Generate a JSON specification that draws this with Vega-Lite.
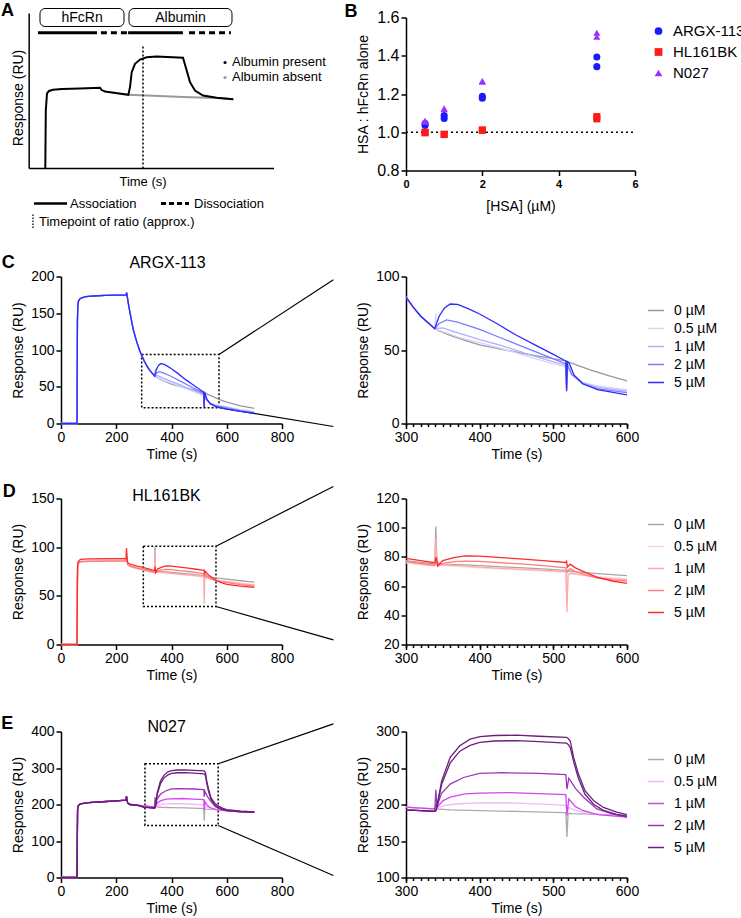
{
"$schema": "https://vega.github.io/schema/vega-lite/v6.json",
"padding": {"left": 1, "top": -6.5, "right": 5, "bottom": 5},
"config": {
  "font": "Liberation Sans",
  "view": {"stroke": null},
  "axis": {"domainColor": "black", "domainWidth": 1.5, "tickColor": "black", "tickWidth": 1.5, "tickSize": 5, "labelColor": "black", "labelFontSize": 14, "titleColor": "black", "titleFontSize": 14, "titleFontWeight": "normal", "grid": false, "labelFont": "Liberation Sans", "titleFont": "Liberation Sans", "labelPadding": 2, "labelOverlap": false, "labelFlush": false},
  "legend": {"labelFontSize": 14, "labelColor": "black", "labelFont": "Liberation Sans"},
  "text": {"font": "Liberation Sans", "color": "black"}
},
"datasets": {
  "schem": [
    {"s":"absent","t":40.49,"r":47.5},{"s":"absent","t":62.83,"r":46.1},{"s":"absent","t":76.6,"r":45.4},{"s":"absent","t":83.38,"r":44.7},
    {"s":"present","t":6.59,"r":0},{"s":"present","t":6.79,"r":37.4},{"s":"present","t":7.28,"r":48.4},{"s":"present","t":8.1,"r":50.0},{"s":"present","t":9.73,"r":50.8},{"s":"present","t":13.4,"r":51.3},{"s":"present","t":20.76,"r":51.6},{"s":"present","t":28.93,"r":52.1},{"s":"present","t":29.62,"r":50.6},{"s":"present","t":30.97,"r":49.7},{"s":"present","t":40.49,"r":47.5},{"s":"present","t":41.18,"r":52.4},{"s":"present","t":41.88,"r":62.1},{"s":"present","t":43.22,"r":67.5},{"s":"present","t":45.27,"r":70.3},{"s":"present","t":48.0,"r":71.8},{"s":"present","t":52.09,"r":72.2},{"s":"present","t":62.83,"r":71.4},{"s":"present","t":64.34,"r":63.2},{"s":"present","t":65.69,"r":55.7},{"s":"present","t":67.73,"r":50.3},{"s":"present","t":71.0,"r":47.1},{"s":"present","t":76.6,"r":45.6},{"s":"present","t":83.38,"r":44.7}
  ],
  "ratio": [
    {"ab":"ARGX-113","hsa":0.5,"v":1.035},{"ab":"ARGX-113","hsa":0.5,"v":1.045},{"ab":"ARGX-113","hsa":1,"v":1.072},{"ab":"ARGX-113","hsa":1,"v":1.088},{"ab":"ARGX-113","hsa":2,"v":1.178},{"ab":"ARGX-113","hsa":2,"v":1.188},{"ab":"ARGX-113","hsa":5,"v":1.343},{"ab":"ARGX-113","hsa":5,"v":1.393},
    {"ab":"HL161BK","hsa":0.5,"v":0.997},{"ab":"HL161BK","hsa":0.5,"v":1.0},{"ab":"HL161BK","hsa":1,"v":0.988},{"ab":"HL161BK","hsa":1,"v":0.99},{"ab":"HL161BK","hsa":2,"v":1.01},{"ab":"HL161BK","hsa":2,"v":1.012},{"ab":"HL161BK","hsa":5,"v":1.07},{"ab":"HL161BK","hsa":5,"v":1.082},
    {"ab":"N027","hsa":0.5,"v":1.055},{"ab":"N027","hsa":0.5,"v":1.06},{"ab":"N027","hsa":1,"v":1.12},{"ab":"N027","hsa":1,"v":1.125},{"ab":"N027","hsa":2,"v":1.264},{"ab":"N027","hsa":2,"v":1.268},{"ab":"N027","hsa":5,"v":1.5},{"ab":"N027","hsa":5,"v":1.52}
  ],
  "argx": [
    {"c":"0 µM","t":0,"r":0},{"c":"0 µM","t":58,"r":0},{"c":"0 µM","t":58.5,"r":60},{"c":"0 µM","t":59.5,"r":140},{"c":"0 µM","t":61,"r":160},{"c":"0 µM","t":63,"r":166},{"c":"0 µM","t":67,"r":169},{"c":"0 µM","t":75,"r":171},{"c":"0 µM","t":90,"r":172.5},{"c":"0 µM","t":120,"r":173.5},{"c":"0 µM","t":160,"r":174.2},{"c":"0 µM","t":200,"r":174.6},{"c":"0 µM","t":236,"r":175},{"c":"0 µM","t":237.5,"r":178},{"c":"0 µM","t":239,"r":175},{"c":"0 µM","t":243,"r":165},{"c":"0 µM","t":250,"r":150},{"c":"0 µM","t":262,"r":127},{"c":"0 µM","t":275,"r":110},{"c":"0 µM","t":286,"r":98},{"c":"0 µM","t":300,"r":86},{"c":"0 µM","t":310,"r":79},{"c":"0 µM","t":320,"r":73},{"c":"0 µM","t":330,"r":68.5},{"c":"0 µM","t":339,"r":64.5},
    {"c":"0 µM","t":345,"r":63},{"c":"0 µM","t":360,"r":60},{"c":"0 µM","t":380,"r":56.5},{"c":"0 µM","t":400,"r":53.5},{"c":"0 µM","t":430,"r":50.5},{"c":"0 µM","t":460,"r":47.5},{"c":"0 µM","t":490,"r":45},{"c":"0 µM","t":518,"r":42.5},{"c":"0 µM","t":530,"r":40},{"c":"0 µM","t":550,"r":36.5},{"c":"0 µM","t":575,"r":32.5},{"c":"0 µM","t":600,"r":29},{"c":"0 µM","t":650,"r":24},{"c":"0 µM","t":700,"r":20.5},
    {"c":"0.5 µM","t":0,"r":0},{"c":"0.5 µM","t":58,"r":0},{"c":"0.5 µM","t":58.5,"r":60},{"c":"0.5 µM","t":59.5,"r":140},{"c":"0.5 µM","t":61,"r":160},{"c":"0.5 µM","t":63,"r":166},{"c":"0.5 µM","t":67,"r":169},{"c":"0.5 µM","t":75,"r":171},{"c":"0.5 µM","t":90,"r":172.5},{"c":"0.5 µM","t":120,"r":173.5},{"c":"0.5 µM","t":160,"r":174.2},{"c":"0.5 µM","t":200,"r":174.6},{"c":"0.5 µM","t":236,"r":175},{"c":"0.5 µM","t":237.5,"r":178},{"c":"0.5 µM","t":239,"r":175},{"c":"0.5 µM","t":243,"r":165},{"c":"0.5 µM","t":250,"r":150},{"c":"0.5 µM","t":262,"r":127},{"c":"0.5 µM","t":275,"r":110},{"c":"0.5 µM","t":286,"r":98},{"c":"0.5 µM","t":300,"r":86},{"c":"0.5 µM","t":310,"r":79},{"c":"0.5 µM","t":320,"r":73},{"c":"0.5 µM","t":330,"r":68.5},{"c":"0.5 µM","t":339,"r":64.5},
    {"c":"0.5 µM","t":340.5,"r":75},{"c":"0.5 µM","t":341.5,"r":64},{"c":"0.5 µM","t":350,"r":62.5},{"c":"0.5 µM","t":375,"r":58},{"c":"0.5 µM","t":400,"r":55},{"c":"0.5 µM","t":430,"r":51},{"c":"0.5 µM","t":460,"r":46.5},{"c":"0.5 µM","t":490,"r":42},{"c":"0.5 µM","t":517,"r":38.5},{"c":"0.5 µM","t":518,"r":25},{"c":"0.5 µM","t":519,"r":38},{"c":"0.5 µM","t":525,"r":33},{"c":"0.5 µM","t":540,"r":28},{"c":"0.5 µM","t":560,"r":25.5},{"c":"0.5 µM","t":600,"r":23},{"c":"0.5 µM","t":650,"r":19},{"c":"0.5 µM","t":700,"r":16},
    {"c":"1 µM","t":0,"r":0},{"c":"1 µM","t":58,"r":0},{"c":"1 µM","t":58.5,"r":60},{"c":"1 µM","t":59.5,"r":140},{"c":"1 µM","t":61,"r":160},{"c":"1 µM","t":63,"r":166},{"c":"1 µM","t":67,"r":169},{"c":"1 µM","t":75,"r":171},{"c":"1 µM","t":90,"r":172.5},{"c":"1 µM","t":120,"r":173.5},{"c":"1 µM","t":160,"r":174.2},{"c":"1 µM","t":200,"r":174.6},{"c":"1 µM","t":236,"r":175},{"c":"1 µM","t":237.5,"r":178},{"c":"1 µM","t":239,"r":175},{"c":"1 µM","t":243,"r":165},{"c":"1 µM","t":250,"r":150},{"c":"1 µM","t":262,"r":127},{"c":"1 µM","t":275,"r":110},{"c":"1 µM","t":286,"r":98},{"c":"1 µM","t":300,"r":86},{"c":"1 µM","t":310,"r":79},{"c":"1 µM","t":320,"r":73},{"c":"1 µM","t":330,"r":68.5},{"c":"1 µM","t":339,"r":64.5},
    {"c":"1 µM","t":350,"r":65},{"c":"1 µM","t":365,"r":62.5},{"c":"1 µM","t":400,"r":57},{"c":"1 µM","t":430,"r":53},{"c":"1 µM","t":460,"r":48},{"c":"1 µM","t":490,"r":43.5},{"c":"1 µM","t":517,"r":39.5},{"c":"1 µM","t":518,"r":24},{"c":"1 µM","t":519,"r":39.5},{"c":"1 µM","t":525,"r":33.5},{"c":"1 µM","t":540,"r":27.5},{"c":"1 µM","t":560,"r":24.5},{"c":"1 µM","t":600,"r":22},{"c":"1 µM","t":650,"r":18},{"c":"1 µM","t":700,"r":15},
    {"c":"2 µM","t":0,"r":0},{"c":"2 µM","t":58,"r":0},{"c":"2 µM","t":58.5,"r":60},{"c":"2 µM","t":59.5,"r":140},{"c":"2 µM","t":61,"r":160},{"c":"2 µM","t":63,"r":166},{"c":"2 µM","t":67,"r":169},{"c":"2 µM","t":75,"r":171},{"c":"2 µM","t":90,"r":172.5},{"c":"2 µM","t":120,"r":173.5},{"c":"2 µM","t":160,"r":174.2},{"c":"2 µM","t":200,"r":174.6},{"c":"2 µM","t":236,"r":175},{"c":"2 µM","t":237.5,"r":178},{"c":"2 µM","t":239,"r":175},{"c":"2 µM","t":243,"r":165},{"c":"2 µM","t":250,"r":150},{"c":"2 µM","t":262,"r":127},{"c":"2 µM","t":275,"r":110},{"c":"2 µM","t":286,"r":98},{"c":"2 µM","t":300,"r":86},{"c":"2 µM","t":310,"r":79},{"c":"2 µM","t":320,"r":73},{"c":"2 µM","t":330,"r":68.5},{"c":"2 µM","t":339,"r":64.5},
    {"c":"2 µM","t":345,"r":68},{"c":"2 µM","t":355,"r":70.5},{"c":"2 µM","t":370,"r":69},{"c":"2 µM","t":400,"r":64},{"c":"2 µM","t":430,"r":58},{"c":"2 µM","t":460,"r":52},{"c":"2 µM","t":490,"r":46},{"c":"2 µM","t":517,"r":40.5},{"c":"2 µM","t":518,"r":23},{"c":"2 µM","t":519,"r":40.5},{"c":"2 µM","t":525,"r":33.5},{"c":"2 µM","t":540,"r":27},{"c":"2 µM","t":560,"r":23.5},{"c":"2 µM","t":600,"r":21},{"c":"2 µM","t":650,"r":17},{"c":"2 µM","t":700,"r":14.5},
    {"c":"5 µM","t":0,"r":0},{"c":"5 µM","t":58,"r":0},{"c":"5 µM","t":58.5,"r":60},{"c":"5 µM","t":59.5,"r":140},{"c":"5 µM","t":61,"r":160},{"c":"5 µM","t":63,"r":166},{"c":"5 µM","t":67,"r":169},{"c":"5 µM","t":75,"r":171},{"c":"5 µM","t":90,"r":172.5},{"c":"5 µM","t":120,"r":173.5},{"c":"5 µM","t":160,"r":174.2},{"c":"5 µM","t":200,"r":174.6},{"c":"5 µM","t":236,"r":175},{"c":"5 µM","t":237.5,"r":178},{"c":"5 µM","t":239,"r":175},{"c":"5 µM","t":243,"r":165},{"c":"5 µM","t":250,"r":150},{"c":"5 µM","t":262,"r":127},{"c":"5 µM","t":275,"r":110},{"c":"5 µM","t":286,"r":98},{"c":"5 µM","t":300,"r":86},{"c":"5 µM","t":310,"r":79},{"c":"5 µM","t":320,"r":73},{"c":"5 µM","t":330,"r":68.5},{"c":"5 µM","t":339,"r":64.5},
    {"c":"5 µM","t":345,"r":73},{"c":"5 µM","t":352,"r":78.5},{"c":"5 µM","t":360,"r":81.3},{"c":"5 µM","t":370,"r":81},{"c":"5 µM","t":385,"r":78},{"c":"5 µM","t":400,"r":74.5},{"c":"5 µM","t":425,"r":67.5},{"c":"5 µM","t":450,"r":60},{"c":"5 µM","t":475,"r":53.5},{"c":"5 µM","t":500,"r":47},{"c":"5 µM","t":517,"r":42.5},{"c":"5 µM","t":518,"r":22},{"c":"5 µM","t":519,"r":42},{"c":"5 µM","t":522,"r":40.5},{"c":"5 µM","t":528,"r":33},{"c":"5 µM","t":540,"r":27},{"c":"5 µM","t":560,"r":23},{"c":"5 µM","t":600,"r":19.5},{"c":"5 µM","t":650,"r":16.5},{"c":"5 µM","t":700,"r":14}
  ],
  "hl": [
    {"c":"0 µM","t":0,"r":0},{"c":"0 µM","t":58,"r":0},{"c":"0 µM","t":59,"r":50},{"c":"0 µM","t":60,"r":79},{"c":"0 µM","t":62,"r":84},{"c":"0 µM","t":70,"r":85.8},{"c":"0 µM","t":100,"r":86.3},{"c":"0 µM","t":236,"r":86.8},{"c":"0 µM","t":239,"r":86.5},{"c":"0 µM","t":242,"r":82},{"c":"0 µM","t":250,"r":80.5},{"c":"0 µM","t":275,"r":78.8},{"c":"0 µM","t":300,"r":77.5},{"c":"0 µM","t":320,"r":76.3},{"c":"0 µM","t":339,"r":75.2},{"c":"0 µM","t":340.5,"r":100.8},{"c":"0 µM","t":342,"r":76},{"c":"0 µM","t":350,"r":75},{"c":"0 µM","t":380,"r":74.5},{"c":"0 µM","t":400,"r":74},{"c":"0 µM","t":430,"r":73.2},{"c":"0 µM","t":460,"r":72.5},{"c":"0 µM","t":490,"r":71.6},{"c":"0 µM","t":517,"r":70.8},{"c":"0 µM","t":518,"r":69},{"c":"0 µM","t":520,"r":70.5},{"c":"0 µM","t":530,"r":69.8},{"c":"0 µM","t":560,"r":68.5},{"c":"0 µM","t":600,"r":67.2},{"c":"0 µM","t":650,"r":65.5},{"c":"0 µM","t":700,"r":64},
    {"c":"0.5 µM","t":0,"r":0},{"c":"0.5 µM","t":58,"r":0},{"c":"0.5 µM","t":59,"r":50},{"c":"0.5 µM","t":60,"r":80},{"c":"0.5 µM","t":62,"r":85},{"c":"0.5 µM","t":70,"r":86.5},{"c":"0.5 µM","t":100,"r":86.8},{"c":"0.5 µM","t":236,"r":87},{"c":"0.5 µM","t":239,"r":87},{"c":"0.5 µM","t":242,"r":82.5},{"c":"0.5 µM","t":250,"r":81},{"c":"0.5 µM","t":275,"r":78.8},{"c":"0.5 µM","t":300,"r":76},{"c":"0.5 µM","t":320,"r":74.8},{"c":"0.5 µM","t":339,"r":73.8},{"c":"0.5 µM","t":340.5,"r":85},{"c":"0.5 µM","t":342,"r":74.5},{"c":"0.5 µM","t":350,"r":74},{"c":"0.5 µM","t":380,"r":73.2},{"c":"0.5 µM","t":400,"r":72.5},{"c":"0.5 µM","t":430,"r":71.8},{"c":"0.5 µM","t":460,"r":71},{"c":"0.5 µM","t":490,"r":70.3},{"c":"0.5 µM","t":517,"r":69.5},{"c":"0.5 µM","t":518.5,"r":50},{"c":"0.5 µM","t":520,"r":68},{"c":"0.5 µM","t":530,"r":68},{"c":"0.5 µM","t":560,"r":66.5},{"c":"0.5 µM","t":600,"r":65},{"c":"0.5 µM","t":650,"r":63},{"c":"0.5 µM","t":700,"r":61.5},
    {"c":"1 µM","t":0,"r":0},{"c":"1 µM","t":58,"r":0},{"c":"1 µM","t":59,"r":50},{"c":"1 µM","t":60,"r":78},{"c":"1 µM","t":62,"r":83},{"c":"1 µM","t":70,"r":85},{"c":"1 µM","t":100,"r":85.5},{"c":"1 µM","t":236,"r":86},{"c":"1 µM","t":237,"r":90},{"c":"1 µM","t":239,"r":85.5},{"c":"1 µM","t":242,"r":81.5},{"c":"1 µM","t":250,"r":80},{"c":"1 µM","t":275,"r":78},{"c":"1 µM","t":300,"r":76.5},{"c":"1 µM","t":320,"r":75},{"c":"1 µM","t":339,"r":74},{"c":"1 µM","t":340.5,"r":93},{"c":"1 µM","t":342,"r":75},{"c":"1 µM","t":350,"r":74.5},{"c":"1 µM","t":380,"r":73.8},{"c":"1 µM","t":400,"r":73},{"c":"1 µM","t":430,"r":72.2},{"c":"1 µM","t":460,"r":71.5},{"c":"1 µM","t":490,"r":70.8},{"c":"1 µM","t":517,"r":70},{"c":"1 µM","t":518.5,"r":42},{"c":"1 µM","t":520,"r":68},{"c":"1 µM","t":525,"r":69},{"c":"1 µM","t":540,"r":67.5},{"c":"1 µM","t":560,"r":66},{"c":"1 µM","t":580,"r":65},{"c":"1 µM","t":600,"r":64.5},{"c":"1 µM","t":650,"r":62.5},{"c":"1 µM","t":700,"r":61},
    {"c":"2 µM","t":0,"r":0},{"c":"2 µM","t":58,"r":0},{"c":"2 µM","t":59,"r":50},{"c":"2 µM","t":60,"r":78},{"c":"2 µM","t":62,"r":83},{"c":"2 µM","t":70,"r":85},{"c":"2 µM","t":100,"r":85.5},{"c":"2 µM","t":236,"r":86},{"c":"2 µM","t":237,"r":95},{"c":"2 µM","t":239,"r":86},{"c":"2 µM","t":242,"r":82},{"c":"2 µM","t":250,"r":80.5},{"c":"2 µM","t":275,"r":78.5},{"c":"2 µM","t":300,"r":77},{"c":"2 µM","t":320,"r":75.5},{"c":"2 µM","t":339,"r":74.5},{"c":"2 µM","t":341,"r":78},{"c":"2 µM","t":343,"r":73.5},{"c":"2 µM","t":350,"r":75.5},{"c":"2 µM","t":365,"r":76.7},{"c":"2 µM","t":380,"r":77.1},{"c":"2 µM","t":400,"r":77},{"c":"2 µM","t":430,"r":76},{"c":"2 µM","t":460,"r":75},{"c":"2 µM","t":490,"r":73.8},{"c":"2 µM","t":517,"r":72.5},{"c":"2 µM","t":519,"r":70},{"c":"2 µM","t":523,"r":72},{"c":"2 µM","t":530,"r":70},{"c":"2 µM","t":545,"r":67.5},{"c":"2 µM","t":560,"r":65.5},{"c":"2 µM","t":580,"r":64.3},{"c":"2 µM","t":600,"r":63.5},{"c":"2 µM","t":650,"r":61.5},{"c":"2 µM","t":700,"r":60},
    {"c":"5 µM","t":0,"r":0},{"c":"5 µM","t":58,"r":0},{"c":"5 µM","t":59,"r":55},{"c":"5 µM","t":60,"r":80},{"c":"5 µM","t":62,"r":85},{"c":"5 µM","t":70,"r":87.5},{"c":"5 µM","t":100,"r":88},{"c":"5 µM","t":236,"r":88.5},{"c":"5 µM","t":237,"r":99},{"c":"5 µM","t":239,"r":89},{"c":"5 µM","t":242,"r":84},{"c":"5 µM","t":250,"r":82.5},{"c":"5 µM","t":275,"r":80.5},{"c":"5 µM","t":300,"r":79},{"c":"5 µM","t":320,"r":77.5},{"c":"5 µM","t":339,"r":76},{"c":"5 µM","t":341,"r":80},{"c":"5 µM","t":343,"r":74},{"c":"5 µM","t":350,"r":77.5},{"c":"5 µM","t":365,"r":79.5},{"c":"5 µM","t":380,"r":80.7},{"c":"5 µM","t":400,"r":80.5},{"c":"5 µM","t":430,"r":79.5},{"c":"5 µM","t":460,"r":78.5},{"c":"5 µM","t":490,"r":77.3},{"c":"5 µM","t":517,"r":76.2},{"c":"5 µM","t":518,"r":77},{"c":"5 µM","t":519,"r":73},{"c":"5 µM","t":523,"r":75},{"c":"5 µM","t":530,"r":72.5},{"c":"5 µM","t":545,"r":69},{"c":"5 µM","t":560,"r":66},{"c":"5 µM","t":580,"r":63.5},{"c":"5 µM","t":600,"r":61.8},{"c":"5 µM","t":650,"r":60},{"c":"5 µM","t":700,"r":58.7}
  ],
  "n027": [
    {"c":"0 µM","t":0,"r":0},{"c":"0 µM","t":58,"r":0},{"c":"0 µM","t":59,"r":100},{"c":"0 µM","t":60,"r":185},{"c":"0 µM","t":62,"r":196},{"c":"0 µM","t":70,"r":202},{"c":"0 µM","t":100,"r":205},{"c":"0 µM","t":150,"r":207.5},{"c":"0 µM","t":200,"r":210},{"c":"0 µM","t":235,"r":212},{"c":"0 µM","t":237,"r":222},{"c":"0 µM","t":239,"r":212},{"c":"0 µM","t":242,"r":203},{"c":"0 µM","t":250,"r":200},{"c":"0 µM","t":275,"r":198},{"c":"0 µM","t":300,"r":196.4},{"c":"0 µM","t":320,"r":195},{"c":"0 µM","t":339,"r":194},
    {"c":"0 µM","t":341,"r":194},{"c":"0 µM","t":360,"r":192.5},{"c":"0 µM","t":400,"r":191.5},{"c":"0 µM","t":450,"r":190.5},{"c":"0 µM","t":500,"r":189.3},{"c":"0 µM","t":517,"r":188.8},{"c":"0 µM","t":518.5,"r":155.5},{"c":"0 µM","t":520,"r":188},{"c":"0 µM","t":525,"r":187.5},{"c":"0 µM","t":560,"r":186.5},{"c":"0 µM","t":600,"r":185.2},{"c":"0 µM","t":650,"r":182},{"c":"0 µM","t":700,"r":180},
    {"c":"0.5 µM","t":0,"r":0},{"c":"0.5 µM","t":58,"r":0},{"c":"0.5 µM","t":59,"r":100},{"c":"0.5 µM","t":60,"r":185},{"c":"0.5 µM","t":62,"r":196},{"c":"0.5 µM","t":70,"r":202},{"c":"0.5 µM","t":100,"r":205},{"c":"0.5 µM","t":150,"r":207.5},{"c":"0.5 µM","t":200,"r":210},{"c":"0.5 µM","t":235,"r":212},{"c":"0.5 µM","t":237,"r":222},{"c":"0.5 µM","t":239,"r":212},{"c":"0.5 µM","t":242,"r":203},{"c":"0.5 µM","t":250,"r":200},{"c":"0.5 µM","t":275,"r":198},{"c":"0.5 µM","t":300,"r":196.4},{"c":"0.5 µM","t":320,"r":195},{"c":"0.5 µM","t":339,"r":194},
    {"c":"0.5 µM","t":341,"r":197},{"c":"0.5 µM","t":345,"r":196},{"c":"0.5 µM","t":355,"r":199},{"c":"0.5 µM","t":370,"r":201},{"c":"0.5 µM","t":400,"r":202.3},{"c":"0.5 µM","t":450,"r":202},{"c":"0.5 µM","t":500,"r":199.8},{"c":"0.5 µM","t":517,"r":198.8},{"c":"0.5 µM","t":519,"r":190},{"c":"0.5 µM","t":521,"r":196},{"c":"0.5 µM","t":530,"r":192},{"c":"0.5 µM","t":545,"r":188.5},{"c":"0.5 µM","t":570,"r":185.5},{"c":"0.5 µM","t":600,"r":184},{"c":"0.5 µM","t":650,"r":181},{"c":"0.5 µM","t":700,"r":179.5},
    {"c":"1 µM","t":0,"r":0},{"c":"1 µM","t":58,"r":0},{"c":"1 µM","t":59,"r":100},{"c":"1 µM","t":60,"r":185},{"c":"1 µM","t":62,"r":196},{"c":"1 µM","t":70,"r":202},{"c":"1 µM","t":100,"r":205},{"c":"1 µM","t":150,"r":207.5},{"c":"1 µM","t":200,"r":210},{"c":"1 µM","t":235,"r":212},{"c":"1 µM","t":237,"r":222},{"c":"1 µM","t":239,"r":212},{"c":"1 µM","t":242,"r":203},{"c":"1 µM","t":250,"r":200},{"c":"1 µM","t":275,"r":198},{"c":"1 µM","t":300,"r":196.4},{"c":"1 µM","t":320,"r":195},{"c":"1 µM","t":339,"r":194},
    {"c":"1 µM","t":340.5,"r":200},{"c":"1 µM","t":342,"r":196},{"c":"1 µM","t":350,"r":205},{"c":"1 µM","t":360,"r":210},{"c":"1 µM","t":380,"r":214.5},{"c":"1 µM","t":400,"r":215.5},{"c":"1 µM","t":440,"r":216.4},{"c":"1 µM","t":480,"r":215},{"c":"1 µM","t":517,"r":213.5},{"c":"1 µM","t":518.5,"r":185},{"c":"1 µM","t":521,"r":207.7},{"c":"1 µM","t":530,"r":197},{"c":"1 µM","t":540,"r":191.8},{"c":"1 µM","t":560,"r":186},{"c":"1 µM","t":600,"r":182.7},{"c":"1 µM","t":650,"r":180.5},{"c":"1 µM","t":700,"r":179},
    {"c":"2 µM","t":0,"r":0},{"c":"2 µM","t":58,"r":0},{"c":"2 µM","t":59,"r":100},{"c":"2 µM","t":60,"r":185},{"c":"2 µM","t":62,"r":196},{"c":"2 µM","t":70,"r":202},{"c":"2 µM","t":100,"r":205},{"c":"2 µM","t":150,"r":207.5},{"c":"2 µM","t":200,"r":210},{"c":"2 µM","t":235,"r":212},{"c":"2 µM","t":237,"r":222},{"c":"2 µM","t":239,"r":212},{"c":"2 µM","t":242,"r":203},{"c":"2 µM","t":250,"r":200},{"c":"2 µM","t":275,"r":198},{"c":"2 µM","t":300,"r":192.7},{"c":"2 µM","t":320,"r":191.5},{"c":"2 µM","t":339,"r":190.5},
    {"c":"2 µM","t":340.5,"r":220},{"c":"2 µM","t":342,"r":197},{"c":"2 µM","t":348,"r":215},{"c":"2 µM","t":360,"r":228},{"c":"2 µM","t":378,"r":237},{"c":"2 µM","t":400,"r":242.7},{"c":"2 µM","t":432,"r":243.6},{"c":"2 µM","t":480,"r":242.5},{"c":"2 µM","t":517,"r":241},{"c":"2 µM","t":518.5,"r":221},{"c":"2 µM","t":521,"r":236},{"c":"2 µM","t":530,"r":222},{"c":"2 µM","t":541,"r":210},{"c":"2 µM","t":559,"r":194},{"c":"2 µM","t":580,"r":187},{"c":"2 µM","t":600,"r":182.7},{"c":"2 µM","t":650,"r":180},{"c":"2 µM","t":700,"r":178.5},
    {"c":"5 µM","t":0,"r":0},{"c":"5 µM","t":58,"r":0},{"c":"5 µM","t":59,"r":100},{"c":"5 µM","t":60,"r":185},{"c":"5 µM","t":62,"r":196},{"c":"5 µM","t":70,"r":202},{"c":"5 µM","t":100,"r":205},{"c":"5 µM","t":150,"r":207.5},{"c":"5 µM","t":200,"r":210},{"c":"5 µM","t":235,"r":212},{"c":"5 µM","t":237,"r":222},{"c":"5 µM","t":239,"r":212},{"c":"5 µM","t":242,"r":203},{"c":"5 µM","t":250,"r":200},{"c":"5 µM","t":275,"r":198},{"c":"5 µM","t":300,"r":192.7},{"c":"5 µM","t":320,"r":191.5},{"c":"5 µM","t":339,"r":190.5},
    {"c":"5 µM","t":341,"r":193},{"c":"5 µM","t":348.5,"r":232.7},{"c":"5 µM","t":360,"r":264.5},{"c":"5 µM","t":373,"r":280.5},{"c":"5 µM","t":387,"r":289.5},{"c":"5 µM","t":400.6,"r":293},{"c":"5 µM","t":420,"r":294.5},{"c":"5 µM","t":450,"r":295},{"c":"5 µM","t":480,"r":293.5},{"c":"5 µM","t":518,"r":292},{"c":"5 µM","t":520.5,"r":290},{"c":"5 µM","t":523,"r":287},{"c":"5 µM","t":527.5,"r":264.5},{"c":"5 µM","t":534,"r":242},{"c":"5 µM","t":543,"r":219},{"c":"5 µM","t":555,"r":205},{"c":"5 µM","t":568,"r":196},{"c":"5 µM","t":586,"r":189.5},{"c":"5 µM","t":600,"r":186},{"c":"5 µM","t":650,"r":182},{"c":"5 µM","t":700,"r":180},
    {"c":"5 µM","id":"b","t":0,"r":0},{"c":"5 µM","id":"b","t":58,"r":0},{"c":"5 µM","id":"b","t":59,"r":100},{"c":"5 µM","id":"b","t":60,"r":185},{"c":"5 µM","id":"b","t":62,"r":196},{"c":"5 µM","id":"b","t":70,"r":202},{"c":"5 µM","id":"b","t":100,"r":205},{"c":"5 µM","id":"b","t":150,"r":207.5},{"c":"5 µM","id":"b","t":200,"r":210},{"c":"5 µM","id":"b","t":235,"r":212},{"c":"5 µM","id":"b","t":237,"r":222},{"c":"5 µM","id":"b","t":239,"r":212},{"c":"5 µM","id":"b","t":242,"r":203},{"c":"5 µM","id":"b","t":250,"r":200},{"c":"5 µM","id":"b","t":275,"r":198},{"c":"5 µM","id":"b","t":300,"r":192.7},{"c":"5 µM","id":"b","t":320,"r":191.5},{"c":"5 µM","id":"b","t":339,"r":190.5},
    {"c":"5 µM","id":"b","t":341,"r":192},{"c":"5 µM","id":"b","t":348.5,"r":228},{"c":"5 µM","id":"b","t":360,"r":257},{"c":"5 µM","id":"b","t":373,"r":273},{"c":"5 µM","id":"b","t":387,"r":281},{"c":"5 µM","id":"b","t":400,"r":285},{"c":"5 µM","id":"b","t":420,"r":287},{"c":"5 µM","id":"b","t":450,"r":287.5},{"c":"5 µM","id":"b","t":480,"r":286},{"c":"5 µM","id":"b","t":518,"r":284},{"c":"5 µM","id":"b","t":520.5,"r":282},{"c":"5 µM","id":"b","t":523,"r":278},{"c":"5 µM","id":"b","t":528,"r":257},{"c":"5 µM","id":"b","t":534,"r":236},{"c":"5 µM","id":"b","t":543,"r":214},{"c":"5 µM","id":"b","t":555,"r":200},{"c":"5 µM","id":"b","t":568,"r":192},{"c":"5 µM","id":"b","t":586,"r":186.5},{"c":"5 µM","id":"b","t":600,"r":184},{"c":"5 µM","id":"b","t":650,"r":180},{"c":"5 µM","id":"b","t":700,"r":179}
  ]
},
"columns": 2,
"bounds": "flush",
"align": "each",
"spacing": {"row": 75, "column": 124},
"resolve": {"scale": {"color": "independent", "shape": "independent"}, "legend": {"color": "independent", "shape": "independent"}},
"concat": [
   {
    "width": 213, "height": 184,
    "layer": [
     {"data": {"name": "schem"}, "mark": {"type": "line", "strokeWidth": 2},
      "encoding": {
        "x": {"field": "t", "type": "quantitative", "scale": {"domain": [13, 100], "nice": false, "zero": false}, "axis": null},
        "y": {"field": "r", "type": "quantitative", "scale": {"domain": [-21.29, 97.4], "nice": false, "zero": false}, "axis": null},
        "color": {"field": "s", "type": "nominal", "scale": {"domain": ["absent", "present"], "range": ["#9a9a9a", "#000000"]}, "legend": null}}},
     {"data": {"values": [{}]}, "mark": {"type": "rule", "strokeWidth": 1, "color": "white", "opacity": 0},
      "encoding": {"x": {"datum": 0, "axis": null}, "x2": {"datum": 5}, "y": {"datum": 112.24, "axis": null}}},
     {"data": {"values": [{}]}, "mark": {"type": "rule", "strokeWidth": 1.5, "color": "black"},
      "encoding": {"x": {"datum": 0, "axis": null}, "y": {"datum": 0, "axis": null}, "y2": {"datum": 100}}},
     {"data": {"values": [{}]}, "mark": {"type": "rule", "strokeWidth": 1.5, "color": "black"},
      "encoding": {"x": {"datum": 0, "axis": null}, "x2": {"datum": 100}, "y": {"datum": 0, "axis": null}}},
     {"data": {"values": [{}]}, "mark": {"type": "rule", "strokeWidth": 1.5, "color": "black", "strokeDash": [2, 2]},
      "encoding": {"x": {"datum": 46.49, "axis": null}, "y": {"datum": 0, "axis": null}, "y2": {"datum": 78.7}}},
     {"data": {"values": [{}]}, "mark": {"type": "rect", "filled": false, "stroke": "black", "strokeWidth": 1, "cornerRadius": 5},
      "encoding": {"x": {"datum": 4.42, "axis": null}, "x2": {"datum": 38.73}, "y": {"datum": 103.2, "axis": null}, "y2": {"datum": 91.6}}},
     {"data": {"values": [{}]}, "mark": {"type": "rect", "filled": false, "stroke": "black", "strokeWidth": 1, "cornerRadius": 5},
      "encoding": {"x": {"datum": 40.77, "axis": null}, "x2": {"datum": 82.84}, "y": {"datum": 103.2, "axis": null}, "y2": {"datum": 91.6}}},
     {"data": {"values": [{}]}, "mark": {"type": "text", "text": "hFcRn", "fontSize": 14, "align": "center", "baseline": "middle"},
      "encoding": {"x": {"datum": 21.6, "axis": null}, "y": {"datum": 97.4, "axis": null}}},
     {"data": {"values": [{}]}, "mark": {"type": "text", "text": "Albumin", "fontSize": 14, "align": "center", "baseline": "middle"},
      "encoding": {"x": {"datum": 61.8, "axis": null}, "y": {"datum": 97.4, "axis": null}}},
     {"data": {"values": [{}]}, "mark": {"type": "rule", "strokeWidth": 3, "color": "black"},
      "encoding": {"x": {"datum": 3.6, "axis": null}, "x2": {"datum": 27.7}, "y": {"datum": 87.5, "axis": null}}},
     {"data": {"values": [{}]}, "mark": {"type": "rule", "strokeWidth": 3, "color": "black"},
      "encoding": {"x": {"datum": 40.4, "axis": null}, "x2": {"datum": 62.8}, "y": {"datum": 87.5, "axis": null}}},
     {"data": {"values": [{}]}, "mark": {"type": "rule", "strokeWidth": 3, "color": "black", "strokeDash": [6, 4]},
      "encoding": {"x": {"datum": 29.3, "axis": null}, "x2": {"datum": 40.0}, "y": {"datum": 87.5, "axis": null}}},
     {"data": {"values": [{}]}, "mark": {"type": "rule", "strokeWidth": 3, "color": "black", "strokeDash": [6, 4]},
      "encoding": {"x": {"datum": 65.3, "axis": null}, "x2": {"datum": 82.4}, "y": {"datum": 87.5, "axis": null}}},
     {"data": {"values": [{}]}, "mark": {"type": "point", "filled": true, "size": 10, "color": "black", "opacity": 1},
      "encoding": {"x": {"datum": 80.0, "axis": null}, "y": {"datum": 68.4, "axis": null}}},
     {"data": {"values": [{}]}, "mark": {"type": "point", "filled": true, "size": 10, "color": "#9a9a9a", "opacity": 1},
      "encoding": {"x": {"datum": 80.0, "axis": null}, "y": {"datum": 58.7, "axis": null}}},
     {"data": {"values": [{}]}, "mark": {"type": "text", "text": "Albumin present", "fontSize": 13, "align": "left", "baseline": "middle"},
      "encoding": {"x": {"datum": 82.84, "axis": null}, "y": {"datum": 68.4, "axis": null}}},
     {"data": {"values": [{}]}, "mark": {"type": "text", "text": "Albumin absent", "fontSize": 13, "align": "left", "baseline": "middle"},
      "encoding": {"x": {"datum": 82.84, "axis": null}, "y": {"datum": 58.7, "axis": null}}},
     {"data": {"values": [{}]}, "mark": {"type": "text", "text": "Time (s)", "fontSize": 13, "align": "center", "baseline": "middle"},
      "encoding": {"x": {"datum": 46.5, "axis": null}, "y": {"datum": -9.0, "axis": null}}},
     {"data": {"values": [{}]}, "mark": {"type": "rule", "strokeWidth": 2.5, "color": "black"},
      "encoding": {"x": {"datum": 1.97, "axis": null}, "x2": {"datum": 15.45}, "y": {"datum": -22.6, "axis": null}}},
     {"data": {"values": [{}]}, "mark": {"type": "text", "text": "Association", "fontSize": 13, "align": "left", "baseline": "middle"},
      "encoding": {"x": {"datum": 16.68, "axis": null}, "y": {"datum": -22.6, "axis": null}}},
     {"data": {"values": [{}]}, "mark": {"type": "rule", "strokeWidth": 3, "color": "black", "strokeDash": [5, 3]},
      "encoding": {"x": {"datum": 53.85, "axis": null}, "x2": {"datum": 65.28}, "y": {"datum": -22.6, "axis": null}}},
     {"data": {"values": [{}]}, "mark": {"type": "text", "text": "Dissociation", "fontSize": 13, "align": "left", "baseline": "middle"},
      "encoding": {"x": {"datum": 67.32, "axis": null}, "y": {"datum": -22.6, "axis": null}}},
     {"data": {"values": [{}]}, "mark": {"type": "rule", "strokeWidth": 1.3, "color": "black", "strokeDash": [1.5, 1.5]},
      "encoding": {"x": {"datum": 1.56, "axis": null}, "y": {"datum": -29.7, "axis": null}, "y2": {"datum": -38.7}}},
     {"data": {"values": [{}]}, "mark": {"type": "text", "text": "Timepoint of ratio (approx.)", "fontSize": 13, "align": "left", "baseline": "middle"},
      "encoding": {"x": {"datum": 4.0, "axis": null}, "y": {"datum": -34.2, "axis": null}}},
     {"data": {"values": [{}]}, "mark": {"type": "text", "text": "Response (RU)", "fontSize": 14, "angle": 270, "align": "center", "baseline": "middle"},
      "encoding": {"x": {"datum": -4.15, "axis": null}, "y": {"datum": 45.5, "axis": null}}},
     {"data": {"values": [{}]}, "mark": {"type": "text", "text": "A", "fontSize": 18, "fontWeight": "bold", "align": "center", "baseline": "middle"},
      "encoding": {"x": {"datum": -8.85, "axis": null}, "y": {"datum": 101.8, "axis": null}}}
    ]
   },
   {
    "width": 229, "height": 153,
    "layer": [
     {"data": {"values": [{}]}, "mark": {"type": "rule", "strokeWidth": 1.5, "color": "black", "strokeDash": [2, 3]},
      "encoding": {"x": {"datum": 0, "axis": null}, "x2": {"datum": 6}, "y": {"datum": 1, "axis": null}}},
     {"data": {"name": "ratio"}, "mark": {"type": "point", "filled": true, "size": 50, "opacity": 1},
      "encoding": {
        "x": {"field": "hsa", "type": "quantitative", "scale": {"domain": [0, 6], "nice": false, "zero": false}, "axis": {"values": [0, 2, 4, 6], "title": "[HSA] (µM)", "labelFontWeight": "bold", "labelFontSize": 11, "titlePadding": 10, "labelPadding": 3}},
        "y": {"field": "v", "type": "quantitative", "scale": {"domain": [0.8, 1.6], "zero": false, "nice": false}, "axis": {"values": [0.8, 1.0, 1.2, 1.4, 1.6], "format": ".1f", "title": "HSA : hFcRn alone", "labelFontSize": 16, "titlePadding": 6}},
        "color": {"field": "ab", "type": "nominal", "scale": {"domain": ["ARGX-113", "HL161BK", "N027"], "range": ["#1a1aff", "#ff1a1a", "#9933ff"]}, "legend": {"title": null, "orient": "none", "legendX": 245, "legendY": 6, "labelFontSize": 15, "symbolSize": 60, "rowPadding": 5, "labelOffset": 7}},
        "shape": {"field": "ab", "type": "nominal", "scale": {"domain": ["ARGX-113", "HL161BK", "N027"], "range": ["circle", "square", "triangle-up"]}, "legend": {"title": null, "orient": "none", "legendX": 245, "legendY": 6, "labelFontSize": 15, "symbolSize": 60, "rowPadding": 5, "labelOffset": 7}}}},
     {"data": {"values": [{}]}, "mark": {"type": "text", "text": "B", "fontSize": 18, "fontWeight": "bold", "align": "center", "baseline": "middle"},
      "encoding": {"x": {"datum": -1.44, "axis": null}, "y": {"datum": 1.631, "axis": null}}}
    ],
    "resolve": {"axis": {"x": "independent", "y": "independent"}}
   },
   {
    "width": 221, "height": 147,
    "layer": [
     {"data": {"values": [{}]}, "mark": {"type": "rect", "filled": false, "stroke": "black", "strokeWidth": 1.5, "strokeDash": [2, 2]},
      "encoding": {"x": {"datum": 292, "axis": null}, "x2": {"datum": 572}, "y": {"datum": 93.9, "axis": null}, "y2": {"datum": 21.5}}},
     {"data": {"values": [{}]}, "mark": {"type": "rule", "strokeWidth": 1.2, "color": "black"},
      "encoding": {"x": {"datum": 572, "axis": null}, "x2": {"datum": 986}, "y": {"datum": 93.9, "axis": null}, "y2": {"datum": 195.5}}},
     {"data": {"values": [{}]}, "mark": {"type": "rule", "strokeWidth": 1.2, "color": "black"},
      "encoding": {"x": {"datum": 572, "axis": null}, "x2": {"datum": 986}, "y": {"datum": 21.5, "axis": null}, "y2": {"datum": -4.1}}},
     {"data": {"values": [{}]}, "mark": {"type": "text", "text": "C", "fontSize": 18, "fontWeight": "bold", "align": "center", "baseline": "middle"},
      "encoding": {"x": {"datum": -190.8, "axis": null}, "y": {"datum": 217.7, "axis": null}}},
     {"data": {"values": [{}]}, "mark": {"type": "text", "text": "ARGX-113", "fontSize": 16, "align": "center", "baseline": "middle"},
      "encoding": {"x": {"datum": 385.5, "axis": null}, "y": {"datum": 217.7, "axis": null}}},
     {"data": {"name": "argx"}, "mark": {"type": "line", "strokeWidth": 1.3},
      "encoding": {
        "x": {"field": "t", "type": "quantitative", "scale": {"domain": [0, 800], "nice": false, "zero": false}, "axis": {"values": [0, 200, 400, 600, 800], "title": "Time (s)", "titlePadding": 3}},
        "y": {"field": "r", "type": "quantitative", "scale": {"domain": [0, 200], "nice": false}, "axis": {"values": [0, 50, 100, 150, 200], "title": "Response (RU)", "titlePadding": 5}},
        "color": {"field": "c", "type": "nominal", "scale": {"domain": ["0 µM", "0.5 µM", "1 µM", "2 µM", "5 µM"], "range": ["#999999", "#d4d4ff", "#aeaeff", "#7b7bff", "#2b2bff"]}, "legend": null}}}
    ],
    "resolve": {"axis": {"x": "independent", "y": "independent"}}
   },
   {
    "width": 221, "height": 147,
    "layer": [
     {"data": {"name": "argx"}, "mark": {"type": "line", "strokeWidth": 1.3, "clip": true},
      "encoding": {
        "x": {"field": "t", "type": "quantitative", "scale": {"domain": [300, 600], "nice": false, "zero": false}, "axis": {"orient": "bottom", "values": [300, 400, 500, 600], "title": "Time (s)", "titlePadding": 3}},
        "y": {"field": "r", "type": "quantitative", "scale": {"domain": [0, 100], "nice": false}, "axis": {"values": [0, 50, 100], "title": "Response (RU)", "titlePadding": 5}},
        "color": {"field": "c", "type": "nominal", "scale": {"domain": ["0 µM", "0.5 µM", "1 µM", "2 µM", "5 µM"], "range": ["#999999", "#d4d4ff", "#aeaeff", "#7b7bff", "#2b2bff"]}, "legend": {"title": null, "orient": "none", "legendX": 241, "legendY": 25, "symbolType": "stroke", "symbolSize": 256, "symbolStrokeWidth": 1.5, "labelFontSize": 14, "rowPadding": 2, "labelOffset": 9}}}},
     {"data": {"values": [{}]}, "mark": {"type": "point", "opacity": 0},
      "encoding": {"x": {"datum": 300, "axis": {"orient": "bottom", "values": [300,310,320,330,340,350,360,370,380,390,400,410,420,430,440,450,460,470,480,490,500,510,520,530,540,550,560,570,580,590,600], "labels": false, "domain": false, "tickSize": 3, "title": null}}}}
    ],
    "resolve": {"axis": {"x": "independent"}}
   },
   {
    "width": 221, "height": 146,
    "layer": [
     {"data": {"values": [{}]}, "mark": {"type": "rect", "filled": false, "stroke": "black", "strokeWidth": 1.5, "strokeDash": [2, 2]},
      "encoding": {"x": {"datum": 298, "axis": null}, "x2": {"datum": 561}, "y": {"datum": 101, "axis": null}, "y2": {"datum": 39}}},
     {"data": {"values": [{}]}, "mark": {"type": "rule", "strokeWidth": 1.2, "color": "black"},
      "encoding": {"x": {"datum": 561, "axis": null}, "x2": {"datum": 986}, "y": {"datum": 101, "axis": null}, "y2": {"datum": 162.3}}},
     {"data": {"values": [{}]}, "mark": {"type": "rule", "strokeWidth": 1.2, "color": "black"},
      "encoding": {"x": {"datum": 561, "axis": null}, "x2": {"datum": 986}, "y": {"datum": 39, "axis": null}, "y2": {"datum": 4.8}}},
     {"data": {"values": [{}]}, "mark": {"type": "text", "text": "D", "fontSize": 18, "fontWeight": "bold", "align": "center", "baseline": "middle"},
      "encoding": {"x": {"datum": -187.1, "axis": null}, "y": {"datum": 156.5, "axis": null}}},
     {"data": {"values": [{}]}, "mark": {"type": "text", "text": "HL161BK", "fontSize": 16, "align": "center", "baseline": "middle"},
      "encoding": {"x": {"datum": 381.9, "axis": null}, "y": {"datum": 152.8, "axis": null}}},
     {"data": {"name": "hl"}, "mark": {"type": "line", "strokeWidth": 1.3},
      "encoding": {
        "x": {"field": "t", "type": "quantitative", "scale": {"domain": [0, 800], "nice": false, "zero": false}, "axis": {"values": [0, 200, 400, 600, 800], "title": "Time (s)", "titlePadding": 3}},
        "y": {"field": "r", "type": "quantitative", "scale": {"domain": [0, 150], "nice": false}, "axis": {"values": [0, 50, 100, 150], "title": "Response (RU)", "titlePadding": 5}},
        "color": {"field": "c", "type": "nominal", "scale": {"domain": ["0 µM", "0.5 µM", "1 µM", "2 µM", "5 µM"], "range": ["#a6a6a6", "#ffd6d6", "#ffabab", "#ff7d7d", "#ff2a2a"]}, "legend": null}}}
    ],
    "resolve": {"axis": {"x": "independent", "y": "independent"}}
   },
   {
    "width": 221, "height": 146,
    "layer": [
     {"data": {"name": "hl"}, "mark": {"type": "line", "strokeWidth": 1.3, "clip": true},
      "encoding": {
        "x": {"field": "t", "type": "quantitative", "scale": {"domain": [300, 600], "nice": false, "zero": false}, "axis": {"orient": "bottom", "values": [300, 400, 500, 600], "title": "Time (s)", "titlePadding": 3}},
        "y": {"field": "r", "type": "quantitative", "scale": {"domain": [20, 120], "nice": false, "zero": false}, "axis": {"values": [20, 40, 60, 80, 100, 120], "title": "Response (RU)", "titlePadding": 5}},
        "color": {"field": "c", "type": "nominal", "scale": {"domain": ["0 µM", "0.5 µM", "1 µM", "2 µM", "5 µM"], "range": ["#a6a6a6", "#ffd6d6", "#ffabab", "#ff7d7d", "#ff2a2a"]}, "legend": {"title": null, "orient": "none", "legendX": 241, "legendY": 17, "symbolType": "stroke", "symbolSize": 256, "symbolStrokeWidth": 1.5, "labelFontSize": 14, "rowPadding": 6, "labelOffset": 9}}}},
     {"data": {"values": [{}]}, "mark": {"type": "point", "opacity": 0},
      "encoding": {"x": {"datum": 300, "axis": {"orient": "bottom", "values": [300,310,320,330,340,350,360,370,380,390,400,410,420,430,440,450,460,470,480,490,500,510,520,530,540,550,560,570,580,590,600], "labels": false, "domain": false, "tickSize": 3, "title": null}}}}
    ],
    "resolve": {"axis": {"x": "independent"}}
   },
   {
    "width": 221, "height": 158,
    "layer": [
     {"data": {"values": [{}]}, "mark": {"type": "rect", "filled": false, "stroke": "black", "strokeWidth": 1.5, "strokeDash": [2, 2]},
      "encoding": {"x": {"datum": 304, "axis": null}, "x2": {"datum": 569}, "y": {"datum": 311.5, "axis": null}, "y2": {"datum": 142.5}}},
     {"data": {"values": [{}]}, "mark": {"type": "rule", "strokeWidth": 1.2, "color": "black"},
      "encoding": {"x": {"datum": 569, "axis": null}, "x2": {"datum": 986}, "y": {"datum": 311.5, "axis": null}, "y2": {"datum": 421}}},
     {"data": {"values": [{}]}, "mark": {"type": "rule", "strokeWidth": 1.2, "color": "black"},
      "encoding": {"x": {"datum": 569, "axis": null}, "x2": {"datum": 986}, "y": {"datum": 142.5, "axis": null}, "y2": {"datum": 5.5}}},
     {"data": {"values": [{}]}, "mark": {"type": "text", "text": "E", "fontSize": 18, "fontWeight": "bold", "align": "center", "baseline": "middle"},
      "encoding": {"x": {"datum": -194.4, "axis": null}, "y": {"datum": 419.2, "axis": null}}},
     {"data": {"values": [{}]}, "mark": {"type": "text", "text": "N027", "fontSize": 16, "align": "center", "baseline": "middle"},
      "encoding": {"x": {"datum": 382.6, "axis": null}, "y": {"datum": 411, "axis": null}}},
     {"data": {"name": "n027"}, "mark": {"type": "line", "strokeWidth": 1.3},
      "encoding": {
        "x": {"field": "t", "type": "quantitative", "scale": {"domain": [0, 800], "nice": false, "zero": false}, "axis": {"values": [0, 200, 400, 600, 800], "title": "Time (s)", "titlePadding": 3}},
        "y": {"field": "r", "type": "quantitative", "scale": {"domain": [0, 400], "nice": false, "range": [158, 12]}, "axis": {"values": [0, 100, 200, 300, 400], "title": "Response (RU)", "titlePadding": 5}},
        "color": {"field": "c", "type": "nominal", "scale": {"domain": ["0 µM", "0.5 µM", "1 µM", "2 µM", "5 µM"], "range": ["#aaaaaa", "#f2b8fa", "#d445f0", "#9b35bb", "#6b1f7c"]}, "legend": null},
        "detail": {"field": "id"}}}
    ],
    "resolve": {"axis": {"x": "independent", "y": "independent"}}
   },
   {
    "width": 221, "height": 158,
    "layer": [
     {"data": {"name": "n027"}, "mark": {"type": "line", "strokeWidth": 1.3, "clip": true},
      "encoding": {
        "x": {"field": "t", "type": "quantitative", "scale": {"domain": [300, 600], "nice": false, "zero": false}, "axis": {"orient": "bottom", "values": [300, 400, 500, 600], "title": "Time (s)", "titlePadding": 3}},
        "y": {"field": "r", "type": "quantitative", "scale": {"domain": [100, 300], "nice": false, "zero": false, "range": [158, 12]}, "axis": {"values": [100, 150, 200, 250, 300], "title": "Response (RU)", "titlePadding": 5}},
        "color": {"field": "c", "type": "nominal", "scale": {"domain": ["0 µM", "0.5 µM", "1 µM", "2 µM", "5 µM"], "range": ["#aaaaaa", "#f2b8fa", "#d445f0", "#9b35bb", "#6b1f7c"]}, "legend": {"title": null, "orient": "none", "legendX": 241, "legendY": 31, "symbolType": "stroke", "symbolSize": 256, "symbolStrokeWidth": 1.5, "labelFontSize": 14, "rowPadding": 6, "labelOffset": 9}},
        "detail": {"field": "id"}}},
     {"data": {"values": [{}]}, "mark": {"type": "point", "opacity": 0},
      "encoding": {"x": {"datum": 300, "axis": {"orient": "bottom", "values": [300,310,320,330,340,350,360,370,380,390,400,410,420,430,440,450,460,470,480,490,500,510,520,530,540,550,560,570,580,590,600], "labels": false, "domain": false, "tickSize": 3, "title": null}}}}
    ],
    "resolve": {"axis": {"x": "independent"}}
   }
]
}
